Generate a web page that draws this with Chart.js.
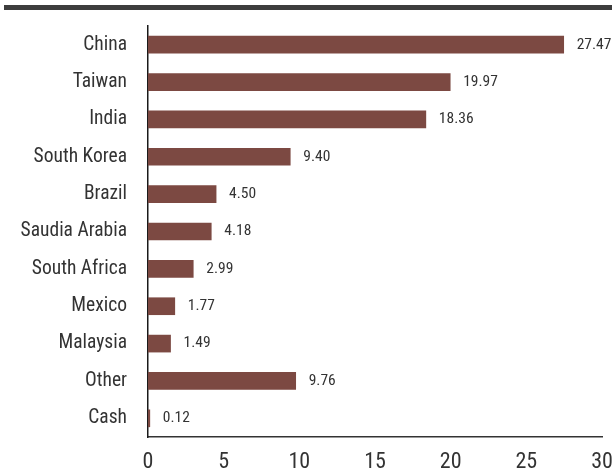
<!DOCTYPE html>
<html>
<head>
<meta charset="utf-8">
<script src="https://cdn.jsdelivr.net/npm/chart.js@4"></script>
<style>
  html, body { margin: 0; padding: 0; background: #fff; }
  #wrap { width: 612px; height: 473px; }
</style>
</head>
<body>
<div id="wrap"><canvas id="grafico"></canvas></div>
<script>
// datos
const paises = ["China", "Taiwan", "India", "South Korea", "Brazil", "Saudia Arabia",
  "South Africa", "Mexico", "Malaysia", "Other", "Cash"];
const pesos = [27.47, 19.97, 18.36, 9.40, 4.50, 4.18, 2.99, 1.77, 1.49, 9.76, 0.12];
const ticksX = [0, 5, 10, 15, 20, 25, 30];

const fuente = "'Roboto Condensed', 'DejaVu Sans Condensed', sans-serif";

// linea gruesa arriba
const reglaArriba = {
  id: "reglaArriba",
  beforeDraw(chart) {
    const ctx = chart.ctx;
    ctx.save();
    ctx.fillStyle = "#3d3d3d";
    ctx.fillRect(4, 5, 608, 5);
    ctx.restore();
  }
};

// etiquetas de valor al final de cada barra
const etiquetas = {
  id: "etiquetas",
  afterDatasetsDraw(chart) {
    const ctx = chart.ctx;
    const meta = chart.getDatasetMeta(0);
    ctx.save();
    ctx.font = "15.5px " + fuente;
    ctx.fillStyle = "#333";
    ctx.textAlign = "left";
    ctx.textBaseline = "middle";
    meta.data.forEach((bar, i) => {
      ctx.fillText(pesos[i].toFixed(2), bar.x + 13, bar.y);
    });
    ctx.restore();
  }
};

const ctx = document.getElementById("grafico").getContext("2d");
new Chart(ctx, {
  type: "bar",
  data: {
    labels: paises,
    datasets: [{
      data: pesos,
      backgroundColor: "#7c4942",
      barThickness: 17
    }]
  },
  options: {
    indexAxis: "y",
    responsive: true,
    maintainAspectRatio: false,
    animation: false,
    layout: { padding: { top: 26, right: 10, left: 0, bottom: 0 } },
    plugins: {
      legend: { display: false },
      tooltip: { enabled: false }
    },
    scales: {
      x: {
        min: 0,
        max: 30,
        afterBuildTicks(scale) {
          scale.ticks = ticksX.map(v => ({ value: v }));
        },
        afterFit(scale) {
          scale.height = 36;
          scale.paddingLeft = 0;
          scale.paddingRight = 0;
        },
        grid: { display: false, drawTicks: false },
        border: { display: true, color: "#333", width: 1.5 },
        ticks: {
          padding: 12,
          color: "#333",
          font: { family: fuente, size: 22 }
        }
      },
      y: {
        afterFit(scale) {
          scale.width = 148;
          scale.paddingTop = 0;
          scale.paddingBottom = 0;
        },
        grid: { display: false, drawTicks: false },
        border: { display: true, color: "#1a1a1a", width: 1.5 },
        ticks: {
          padding: 21,
          color: "#333",
          font: { family: fuente, size: 19.5 }
        }
      }
    }
  },
  plugins: [reglaArriba, etiquetas]
});
</script>
</body>
</html>
